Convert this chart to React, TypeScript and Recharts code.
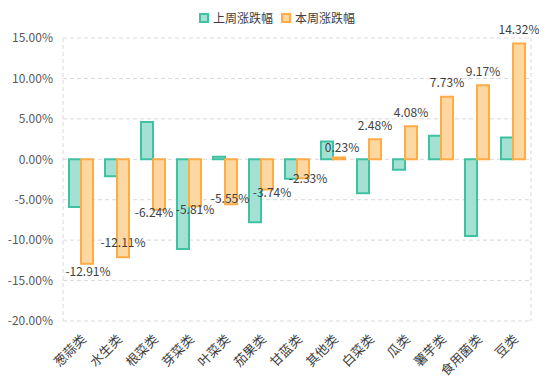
import React from "react";
import { BarChart, Bar, XAxis, YAxis, CartesianGrid, LabelList } from "recharts";

const CATEGORIES = ["葱蒜类", "水生类", "根菜类", "芽菜类", "叶菜类", "茄果类", "甘蓝类", "其他类", "白菜类", "瓜类", "薯芋类", "食用菌类", "豆类"];
const LAST_WEEK = [-5.9, -2.1, 4.6, -11.1, 0.3, -7.8, -2.4, 2.2, -4.2, -1.3, 2.9, -9.5, 2.7];
const THIS_WEEK = [-12.91, -12.11, -6.24, -5.81, -5.55, -3.74, -2.33, 0.23, 2.48, 4.08, 7.73, 9.17, 14.32];
const Y_TICKS = [-20, -15, -10, -5, 0, 5, 10, 15];

// hand nudges for the value labels (Excel moved a few to avoid overlaps)
const LABEL_NUDGE: [number, number][] = [
  [1, 7], [0, -16], [-5, 2], [0, 2], [-1, -7], [5, 2], [5, -1],
  [3, -11], [0, -15], [0, -15], [0, -15], [0, -15], [0, -15],
];

const TEAL = "#3fc2a2";
const TEAL_FILL = "#a3e2d3";
const ORANGE = "#ffab46";
const ORANGE_FILL = "#ffd7a1";
const GRID = "#d9d9d9";
const FONT = "'Noto Sans CJK SC', 'Noto Sans', sans-serif";

const data = CATEGORIES.map((name, i) => ({ name, last: LAST_WEEK[i], cur: THIS_WEEK[i] }));

const XTick = ({ x, y, payload }: any) => (
  <g transform={`translate(${x + 6},${y + 11})`}>
    <text transform="rotate(-45)" textAnchor="end" fontSize={13} fill="#404040" fontFamily={FONT}>
      {payload.value}
    </text>
  </g>
);

const ValueLabel = ({ x, y, width, height, value, index }: any) => {
  const end = value >= 0 ? Math.min(y, y + height) : Math.max(y, y + height);
  const [dx, dy] = LABEL_NUDGE[index] || [0, 0];
  return (
    <text
      x={x + width / 2 + dx}
      y={end + dy}
      textAnchor="middle"
      dominantBaseline="central"
      fontSize={12}
      fill="#404040"
      fontFamily={FONT}
    >
      {value.toFixed(2)}%
    </text>
  );
};

const swatch = (stroke: string, fill: string) => ({
  width: 6,
  height: 6,
  border: `2px solid ${stroke}`,
  background: fill,
  display: "inline-block",
});

export default function App() {
  return (
    <div style={{ position: "relative", width: 547, height: 384, margin: -8, background: "#fff" }}>
      <div
        style={{
          position: "absolute",
          top: 10,
          left: 199,
          display: "flex",
          alignItems: "center",
          gap: 4,
          fontSize: 12,
          lineHeight: "16px",
          color: "#404040",
          fontFamily: FONT,
        }}
      >
        <span style={swatch(TEAL, TEAL_FILL)} />
        <span>上周涨跌幅</span>
        <span style={{ ...swatch(ORANGE, ORANGE_FILL), marginLeft: 4 }} />
        <span>本周涨跌幅</span>
      </div>
      <BarChart
        width={547}
        height={384}
        data={data}
        margin={{ top: 38, right: 0, bottom: 0, left: 0 }}
        barGap={0}
        barSize={12}
      >
        <CartesianGrid vertical={false} stroke={GRID} strokeDasharray="4 3" />
        <XAxis dataKey="name" height={63} axisLine={false} tickLine={false} tick={<XTick />} interval={0} />
        <YAxis
          width={63}
          domain={[-20, 15]}
          ticks={Y_TICKS}
          tickFormatter={(v: number) => `${v.toFixed(2)}%`}
          axisLine={{ stroke: GRID, strokeDasharray: "4 3" }}
          tickLine={false}
          tick={{ fontSize: 12, fill: "#595959", fontFamily: FONT }}
          tickMargin={4}
        />
        <YAxis
          yAxisId="r"
          orientation="right"
          width={16}
          domain={[-20, 15]}
          ticks={Y_TICKS}
          tick={false}
          tickLine={false}
          axisLine={{ stroke: GRID, strokeDasharray: "4 3" }}
        />
        <Bar dataKey="last" fill={TEAL_FILL} stroke={TEAL} strokeWidth={2} isAnimationActive={false} />
        <Bar dataKey="cur" fill={ORANGE_FILL} stroke={ORANGE} strokeWidth={2} isAnimationActive={false}>
          <LabelList dataKey="cur" content={<ValueLabel />} />
        </Bar>
      </BarChart>
      <div style={{ position: "absolute", inset: 0, border: "1px solid #c4c4c4", pointerEvents: "none" }} />
    </div>
  );
}
